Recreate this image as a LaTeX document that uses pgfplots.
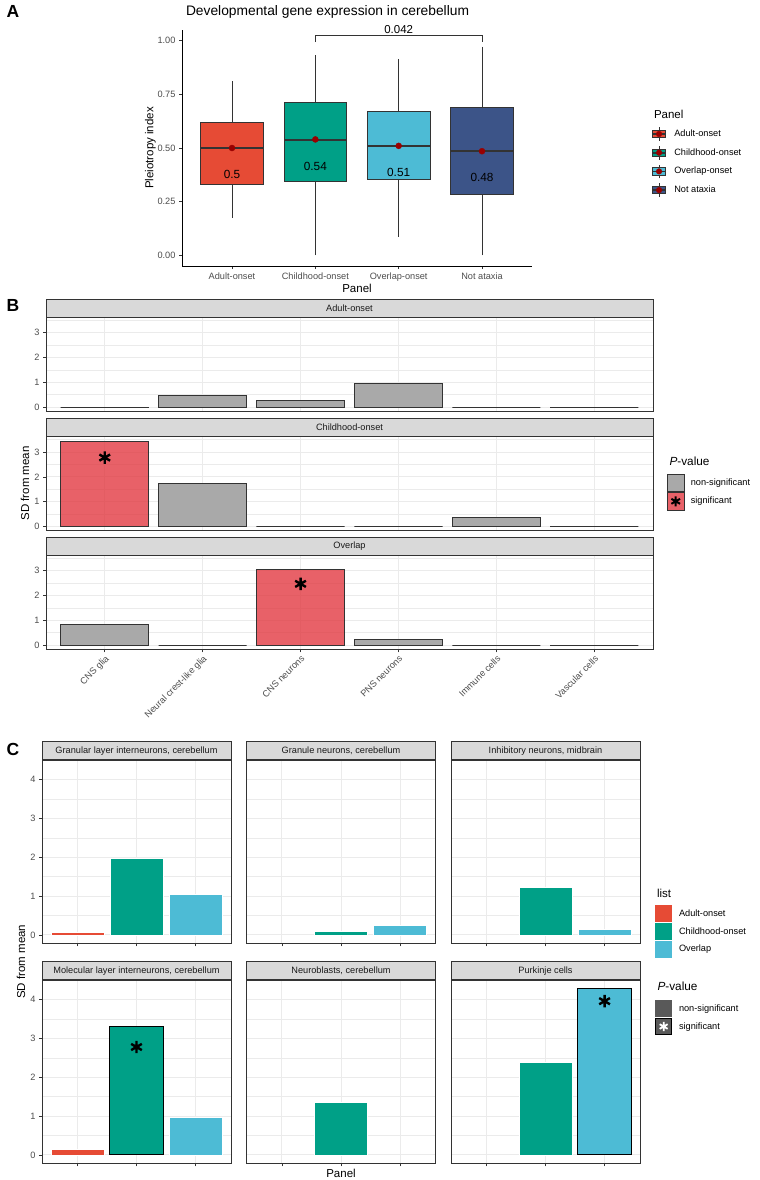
\documentclass[border=0pt]{standalone}
\usepackage{fontspec}
\setmainfont{Liberation Sans}
\usepackage{pgfplots}
\pgfplotsset{compat=1.18}
\usepgfplotslibrary{statistics}

\definecolor{adult}{HTML}{E64B35}
\definecolor{child}{HTML}{00A087}
\definecolor{overlap}{HTML}{4DBBD5}
\definecolor{notax}{HTML}{3C5488}
\definecolor{meanred}{HTML}{990000}
\definecolor{grey10}{HTML}{1A1A1A}
\definecolor{grey20}{HTML}{333333}
\definecolor{grey30}{HTML}{4D4D4D}
\definecolor{grey35}{HTML}{595959}
\definecolor{grey85}{HTML}{D9D9D9}
\definecolor{grey92}{HTML}{EBEBEB}
\definecolor{nsgray}{HTML}{A9A9A9}
\definecolor{sigred}{HTML}{E23A42}

\newcommand{\fs}[1]{\fontsize{#1bp}{#1bp}\selectfont}

\pgfplotsset{
  ticktext/.style={font=\fs{9.2}, text=grey30},
  facet/.style={
    scale only axis, anchor=north west,
    axis line style={draw=grey20, line width=0.6bp},
    xmajorgrids, ymajorgrids, yminorgrids,
    major grid style={draw=grey92, line width=1bp},
    minor grid style={draw=grey92, line width=0.5bp},
    tick align=outside, major tick length=3bp, minor tick length=0pt,
    tick style={draw=grey20, line width=0.6bp},
    xtick pos=left, ytick pos=left,
    ticklabel style={ticktext},
    every axis title/.style={at={(0.5,1)}, anchor=south, fill=grey85, draw=grey20,
      line width=0.6bp, minimum height=18bp, inner sep=0pt, font=\fs{9.2}, text=grey10},
  },
  facetB/.style={facet, width=607bp, height=94bp, xmin=0.4, xmax=6.6,
    ymin=-0.1725, ymax=3.6225, xtick={1,2,3,4,5,6},
    ytick={0,1,2,3}, yticklabels={0,1,2,3}, minor ytick={0.5,1.5,2.5,3.5},
    every axis title/.append style={minimum width=607bp}},
  facetC/.style={facet, width=189bp, height=183.3bp, xmin=0.4, xmax=3.6,
    ymin=-0.2145, ymax=4.5045, xtick={1,2,3}, xticklabels={},
    ytick={0,1,2,3,4}, yticklabels={0,1,2,3,4}, minor ytick={0.5,1.5,2.5,3.5,4.5},
    every axis title/.append style={minimum width=189bp}},
  barns/.style={ybar, bar shift=0pt, bar width=0.9, fill=nsgray, draw=grey20, line width=0.9bp},
  barsig/.style={ybar, bar shift=0pt, bar width=0.9, fill=sigred, fill opacity=0.8, draw=grey20, line width=0.9bp},
  cbar/.style={ybar, bar shift=0pt, bar width=0.9, fill=#1, draw=white, line width=0.5bp},
  cbarsig/.style={ybar, bar shift=0pt, bar width=0.9, fill=#1, draw=black, line width=1bp},
  ast/.style={only marks, mark=asterisk, mark size=6.2bp, line width=2.4bp, black},
  mylegend/.style={hide axis, scale only axis, width=1bp, height=1bp,
    xmin=0, xmax=1, ymin=0, ymax=1, anchor=north west, legend cell align=left,
    legend style={at={(0,1)}, anchor=north west, draw=none, fill=none,
      inner sep=0pt, outer sep=0pt, row sep=0pt, font=\fs{9.2},
      nodes={inner sep=0pt, outer sep=0pt},
      /tikz/every odd column/.append style={column sep=#1}}},
  boxkey/.style={legend image code/.code={
    \path[draw=none, fill=none] (0bp,-9.35bp) rectangle (17.3bp,9.35bp);
    \draw[grey20, line width=0.8bp, fill=none] (8.65bp,-6.9bp) -- (8.65bp,6.9bp);
    \draw[grey20, line width=0.8bp, fill=#1] (2.3bp,-3.6bp) rectangle (15bp,3.6bp);
    \draw[grey20, line width=1.6bp, fill=none] (2.3bp,0bp) -- (15bp,0bp);
    \path[draw=meanred, fill=meanred] plot[only marks, mark=*, mark size=2.8bp] coordinates {(8.65bp,0bp)};
  }},
  bkeyns/.style={legend image code/.code={
    \path[draw=none, fill=none] (0bp,-9.15bp) rectangle (17.3bp,9.15bp);
    \draw[grey20, line width=0.9bp, fill=nsgray] (0.4bp,-8.65bp) rectangle (16.9bp,8.65bp);
  }},
  bkeysig/.style={legend image code/.code={
    \path[draw=none, fill=none] (0bp,-9.15bp) rectangle (17.3bp,9.15bp);
    \draw[grey20, line width=0.9bp, fill=sigred, fill opacity=0.8] (0.4bp,-8.65bp) rectangle (16.9bp,8.65bp);
    \path[draw=black, fill=none, line width=2bp] plot[only marks, mark=asterisk, mark size=5bp] coordinates {(8.65bp,0bp)};
  }},
  ckey/.style={legend image code/.code={
    \path[draw=none, fill=none] (0bp,-8.9bp) rectangle (17.3bp,8.9bp);
    \path[draw=none, fill=#1] (0.3bp,-8.6bp) rectangle (17bp,8.6bp);
  }},
  ckeysig/.style={legend image code/.code={
    \path[draw=none, fill=none] (0bp,-8.9bp) rectangle (17.3bp,8.9bp);
    \draw[black, line width=1.2bp, fill=grey35] (0.6bp,-8.3bp) rectangle (16.7bp,8.3bp);
    \path[draw=white, fill=none, line width=1.8bp] plot[only marks, mark=asterisk, mark size=4.6bp] coordinates {(8.65bp,0bp)};
  }},
}

\begin{document}
\begin{tikzpicture}
\useasboundingbox (0,0) rectangle (760bp,-1180bp);

% ---------------- Panel A ----------------
\node[anchor=base west, font=\fs{17.5}\bfseries] at (3bp,-17.5bp) {A};
\node[anchor=base west, font=\fs{13.8}] at (182.5bp,-15.7bp) {Developmental gene expression in cerebellum};

\begin{axis}[scale only axis, at={(182bp,-266bp)}, anchor=south west, width=350bp, height=236bp,
  xmin=0.4, xmax=4.6, ymin=-0.05, ymax=1.05, clip=false,
  axis x line*=bottom, axis y line*=left, axis line style={-, draw=black, line width=1bp},
  xtick={1,2,3,4}, xticklabels={Adult-onset,Childhood-onset,Overlap-onset,Not ataxia},
  ytick={0,0.25,0.5,0.75,1}, yticklabels={0.00,0.25,0.50,0.75,1.00},
  tick align=outside, major tick length=3bp, tick style={draw=grey20, line width=0.8bp},
  ticklabel style={ticktext}, /pgf/number format/assume math mode=true,
  boxplot/draw direction=y,
  boxplot/every median/.style={line width=1.8bp, draw=grey20},
]
\addplot[boxplot prepared={draw position=1, lower whisker=0.175, lower quartile=0.33, median=0.50,
  upper quartile=0.62, upper whisker=0.81, box extend=0.75, whisker extend=0},
  draw=grey20, fill=adult, line width=0.8bp] coordinates {};
\addplot[boxplot prepared={draw position=2, lower whisker=0.0, lower quartile=0.343, median=0.539,
  upper quartile=0.711, upper whisker=0.933, box extend=0.75, whisker extend=0},
  draw=grey20, fill=child, line width=0.8bp] coordinates {};
\addplot[boxplot prepared={draw position=3, lower whisker=0.087, lower quartile=0.354, median=0.509,
  upper quartile=0.672, upper whisker=0.916, box extend=0.75, whisker extend=0},
  draw=grey20, fill=overlap, line width=0.8bp] coordinates {};
\addplot[boxplot prepared={draw position=4, lower whisker=0.0, lower quartile=0.282, median=0.485,
  upper quartile=0.688, upper whisker=0.972, box extend=0.75, whisker extend=0},
  draw=grey20, fill=notax, line width=0.8bp] coordinates {};
\addplot[only marks, mark=*, mark size=3bp, color=meanred] coordinates {(1,0.50) (2,0.54) (3,0.51) (4,0.485)};
\addplot[grey20, line width=0.6bp] coordinates {(2,0.994) (2,1.025) (4,1.025) (4,0.994)};
\node[font=\fs{11.8}] at (axis cs:1,0.377) {0.5};
\node[font=\fs{11.8}] at (axis cs:2,0.416) {0.54};
\node[font=\fs{11.8}] at (axis cs:3,0.385) {0.51};
\node[font=\fs{11.8}] at (axis cs:4,0.362) {0.48};
\node[font=\fs{11.5}] at (axis cs:3,1.051) {0.042};
\end{axis}
\node[font=\fs{11.5}] at (357bp,-288bp) {Panel};
\node[font=\fs{11.5}, rotate=90] at (150.5bp,-148bp) {Pleiotropy index};

% legend A
\node[anchor=west, font=\fs{11.5}] at (650.5bp,-114bp) {Panel};
\begin{axis}[mylegend=6.6bp, at={(650.4bp,-124.65bp)}]
\addlegendimage{boxkey=adult}\addlegendentry{Adult-onset}
\addlegendimage{boxkey=child}\addlegendentry{Childhood-onset}
\addlegendimage{boxkey=overlap}\addlegendentry{Overlap-onset}
\addlegendimage{boxkey=notax}\addlegendentry{Not ataxia}
\end{axis}

% ---------------- Panel B ----------------
\node[anchor=base west, font=\fs{17.5}\bfseries] at (3bp,-311.7bp) {B};

\begin{axis}[facetB, at={(46bp,-317.3bp)}, title={Adult-onset}, xmajorticks=false]
\addplot[barns] coordinates {(1,0) (2,0.48) (3,0.25) (4,0.96) (5,0) (6,0)};
\end{axis}

\begin{axis}[facetB, at={(46bp,-436.7bp)}, title={Childhood-onset}, xmajorticks=false]
\addplot[barsig] coordinates {(1,3.45)};
\addplot[barns] coordinates {(2,1.75) (3,0) (4,0) (5,0.38) (6,0)};
\addplot[ast] coordinates {(1,2.78)};
\end{axis}

\begin{axis}[facetB, at={(46bp,-555.3bp)}, title={Overlap},
  xticklabels={CNS glia,Neural crest-like glia,CNS neurons,PNS neurons,Immune cells,Vascular cells},
  xticklabel style={rotate=45, anchor=north east, inner sep=1.5bp}]
\addplot[barns] coordinates {(1,0.82) (2,0) (4,0.24) (5,0) (6,0)};
\addplot[barsig] coordinates {(3,3.07)};
\addplot[ast] coordinates {(3,2.47)};
\end{axis}
\node[font=\fs{11.5}, rotate=90] at (25bp,-483.5bp) {SD from mean};

% legend B
\node[anchor=west, font=\fs{11.8}] at (666bp,-461bp) {\textit{P}-value};
\begin{axis}[mylegend=6.4bp, at={(667bp,-473.85bp)}]
\addlegendimage{bkeyns}\addlegendentry{non-significant}
\addlegendimage{bkeysig}\addlegendentry{significant}
\end{axis}

% ---------------- Panel C ----------------
\node[anchor=base west, font=\fs{17.5}\bfseries] at (3bp,-755bp) {C};

\begin{axis}[facetC, at={(42bp,-760bp)}, title={Granular layer interneurons, cerebellum}]
\addplot[cbar=adult] coordinates {(1,0.08)};
\addplot[cbar=child] coordinates {(2,1.97)};
\addplot[cbar=overlap] coordinates {(3,1.06)};
\end{axis}

\begin{axis}[facetC, at={(246.5bp,-760bp)}, title={Granule neurons, cerebellum}, ymajorticks=false]
\addplot[cbar=child] coordinates {(2,0.09)};
\addplot[cbar=overlap] coordinates {(3,0.26)};
\end{axis}

\begin{axis}[facetC, at={(451bp,-760bp)}, title={Inhibitory neurons, midbrain}, ymajorticks=false]
\addplot[cbar=child] coordinates {(2,1.22)};
\addplot[cbar=overlap] coordinates {(3,0.16)};
\end{axis}

\begin{axis}[facetC, at={(42bp,-980bp)}, title={Molecular layer interneurons, cerebellum}]
\addplot[cbar=adult] coordinates {(1,0.15)};
\addplot[cbarsig=child] coordinates {(2,3.32)};
\addplot[cbar=overlap] coordinates {(3,0.97)};
\addplot[ast] coordinates {(2,2.78)};
\end{axis}

\begin{axis}[facetC, at={(246.5bp,-980bp)}, title={Neuroblasts, cerebellum}, ymajorticks=false]
\addplot[cbar=child] coordinates {(2,1.36)};
\end{axis}

\begin{axis}[facetC, at={(451bp,-980bp)}, title={Purkinje cells}, ymajorticks=false]
\addplot[cbar=child] coordinates {(2,2.38)};
\addplot[cbarsig=overlap] coordinates {(3,4.29)};
\addplot[ast] coordinates {(3,3.96)};
\end{axis}

\node[font=\fs{11.5}, rotate=90] at (21bp,-961.7bp) {SD from mean};
\node[font=\fs{11.5}] at (341bp,-1173.3bp) {Panel};

% legends C
\node[anchor=west, font=\fs{11.5}] at (653.5bp,-893.3bp) {list};
\begin{axis}[mylegend=6.7bp, at={(655bp,-904.9bp)}]
\addlegendimage{ckey=adult}\addlegendentry{Adult-onset}
\addlegendimage{ckey=child}\addlegendentry{Childhood-onset}
\addlegendimage{ckey=overlap}\addlegendentry{Overlap}
\end{axis}
\node[anchor=west, font=\fs{11.8}] at (654bp,-986.7bp) {\textit{P}-value};
\begin{axis}[mylegend=6.7bp, at={(655bp,-999.8bp)}]
\addlegendimage{ckey=grey35}\addlegendentry{non-significant}
\addlegendimage{ckeysig}\addlegendentry{significant}
\end{axis}

\end{tikzpicture}
\end{document}
